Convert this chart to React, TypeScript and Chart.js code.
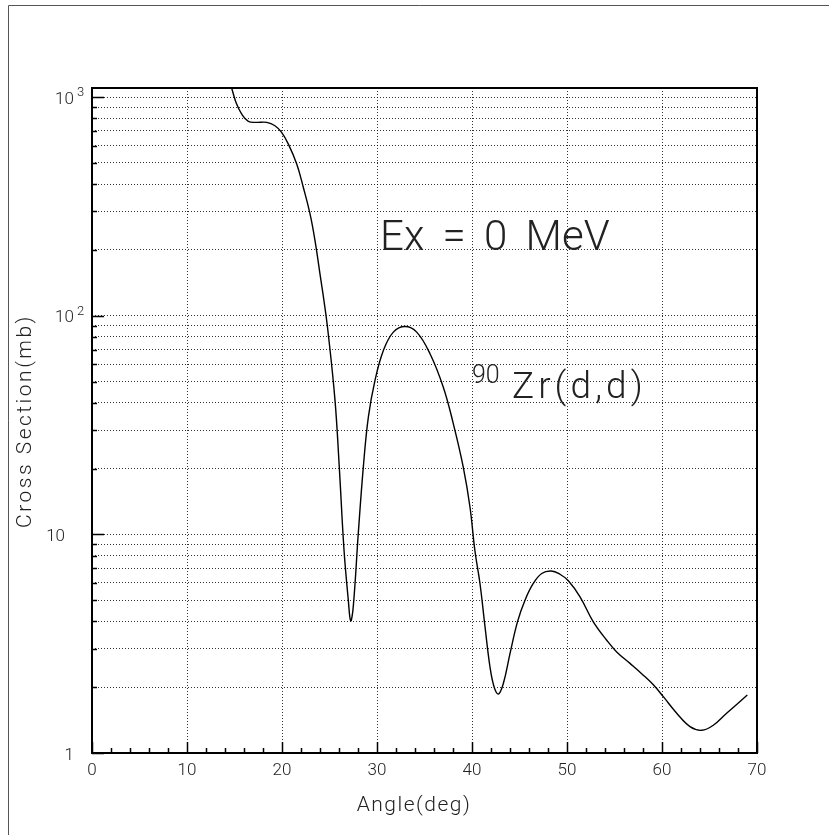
import React, { useEffect, useRef } from "react";
import { Chart, registerables } from "chart.js";

Chart.register(...registerables);

// ---- data ----
const angles = [
  14.2, 14.7, 15.16, 15.76, 16.46, 17.33, 18.39, 19.26, 19.96, 20.67, 21.55, 22.24,
  22.95, 23.47, 24.1, 24.42, 24.87, 25.58, 26.03, 26.53, 26.98, 27.23, 27.5, 28.03,
  28.56, 29.09, 29.79, 30.67, 31.72, 32.95, 34.18, 35.58, 36.98, 38.03, 39.08, 39.79,
  40.3, 40.84, 41.37, 41.89, 42.32, 42.77, 43.3, 44.0, 44.8, 45.58, 46.45, 47.34,
  48.32, 49.26, 50.14, 51.37, 52.77, 54.18, 55.23, 56.63, 58.03, 59.09, 60.14, 61.55,
  62.95, 64.18, 65.4, 66.8, 68.98,
];
const crossSection = [
  1300, 1100, 945, 836, 774, 766, 766, 739, 689, 609, 494, 387,
  292, 221, 145, 117, 82.6, 41, 20.3, 8.46, 5.0, 4.02, 4.66, 10.1,
  20.3, 34.4, 50.6, 69.3, 84.1, 89.3, 84.1, 67, 47.1, 32.1, 20.3, 13.3,
  8.46, 5.96, 3.78, 2.48, 2.01, 1.86, 2.08, 2.85, 4.0, 5.0, 5.96, 6.62,
  6.8, 6.57, 6.13, 5.18, 3.98, 3.28, 2.9, 2.57, 2.27, 2.05, 1.81, 1.52,
  1.32, 1.27, 1.34, 1.52, 1.84,
];

const xGridValues = [0, 10, 20, 30, 40, 50, 60, 70];
const xTickMarks = [0, 2, 4, 6, 8, 10, 12, 14, 16, 18, 20, 22, 24, 26, 28, 30, 32, 34, 36, 38, 40, 42, 44, 46, 48, 50, 52, 54, 56, 58, 60, 62, 64, 66, 68, 70];
const xTickLabels = ["0", "10", "20", "30", "40", "50", "60", "70"];
const yGridValues = [
  1, 2, 3, 4, 5, 6, 7, 8, 9,
  10, 20, 30, 40, 50, 60, 70, 80, 90,
  100, 200, 300, 400, 500, 600, 700, 800, 900,
  1000,
];
const yMajorValues = [1, 10, 100, 1000];
const yTickLabels = [
  { value: 1, base: "1", sup: "" },
  { value: 10, base: "10", sup: "" },
  { value: 100, base: "10", sup: "2" },
  { value: 1000, base: "10", sup: "3" },
];
const xTitle = "Angle(deg)";
const yTitle = "Cross Section(mb)";
const energyLabel = "Ex = 0 MeV";
const isotopeMass = "90";
const reactionLabel = "Zr(d,d)";

const FONT = 'Roboto, "Liberation Sans", Arial, sans-serif';
const W = "300";
const TEXT = "#222";

const decorations = {
  id: "decorations",
  afterDraw(chart: any) {
    const { ctx, chartArea: a, scales } = chart;
    const xs = scales.x;
    const ys = scales.y;
    ctx.save();

    // outer border
    ctx.strokeStyle = "#555";
    ctx.lineWidth = 1;
    ctx.beginPath();
    ctx.moveTo(8.5, 900);
    ctx.lineTo(8.5, 5.5);
    ctx.lineTo(900, 5.5);
    ctx.stroke();

    // tick marks
    ctx.strokeStyle = "#000";
    ctx.lineWidth = 1.5;
    ctx.beginPath();
    for (const v of xTickMarks) {
      const px = Math.round(xs.getPixelForValue(v)) + 0.5;
      const len = v % 10 === 0 ? 11 : 5;
      ctx.moveTo(px, a.bottom);
      ctx.lineTo(px, a.bottom - len);
    }
    for (const v of yGridValues) {
      const py = Math.round(ys.getPixelForValue(v)) + 0.5;
      const len = yMajorValues.includes(v) ? 12 : 5;
      ctx.moveTo(a.left, py);
      ctx.lineTo(a.left + len, py);
    }
    ctx.stroke();

    // frame
    ctx.lineWidth = 2;
    ctx.strokeRect(a.left, a.top, a.right - a.left, a.bottom - a.top);

    ctx.fillStyle = TEXT;
    // x tick labels
    ctx.font = `${W} 17px ${FONT}`;
    ctx.textAlign = "center";
    ctx.textBaseline = "alphabetic";
    xGridValues.forEach((v, i) => {
      ctx.fillText(xTickLabels[i], xs.getPixelForValue(v), 775);
    });

    // y tick labels
    for (const t of yTickLabels) {
      const py = ys.getPixelForValue(t.value);
      ctx.font = `${W} 17px ${FONT}`;
      if (t.sup) {
        ctx.textAlign = "left";
        ctx.fillText(t.base, 55, py + 6.5);
        ctx.font = `${W} 13px ${FONT}`;
        ctx.fillText(t.sup, 77, py - 1);
      } else {
        ctx.textAlign = "right";
        ctx.fillText(t.base, t.base === "1" ? 74 : 65, py + 6.5);
      }
    }

    // axis titles
    ctx.font = `${W} 21px ${FONT}`;
    (ctx as any).letterSpacing = "1.5px";
    ctx.textAlign = "center";
    ctx.fillText(xTitle, 414, 811);
    ctx.save();
    ctx.translate(31, 421);
    ctx.rotate(-Math.PI / 2);
    (ctx as any).letterSpacing = "2.5px";
    ctx.fillText(yTitle, 0, 0);
    ctx.restore();

    // annotations
    ctx.textAlign = "left";
    ctx.font = `${W} 42px ${FONT}`;
    (ctx as any).letterSpacing = "0px";
    (ctx as any).wordSpacing = "8px";
    ctx.fillText(energyLabel, 380, 250);
    (ctx as any).wordSpacing = "0px";

    ctx.font = `${W} 25px ${FONT}`;
    ctx.fillText(isotopeMass, 472, 383);
    ctx.font = `${W} 37px ${FONT}`;
    (ctx as any).letterSpacing = "4px";
    ctx.fillText(reactionLabel, 512, 398);
    (ctx as any).letterSpacing = "0px";

    ctx.restore();
  },
};

export default function App() {
  const ref = useRef<HTMLCanvasElement | null>(null);

  useEffect(() => {
    if (!ref.current) return;
    const points = angles.map((x, i) => ({ x, y: crossSection[i] }));
    const chart = new Chart(ref.current, {
      type: "line",
      data: {
        datasets: [
          {
            data: points,
            borderColor: "#000",
            borderWidth: 1.4,
            pointRadius: 0,
            fill: false,
            tension: 0.4,
          },
        ],
      },
      options: {
        responsive: false,
        animation: false,
        devicePixelRatio: 1,
        layout: { padding: { left: 92, right: 72, top: 88, bottom: 82 } },
        plugins: { legend: { display: false }, tooltip: { enabled: false } },
        scales: {
          x: {
            type: "linear",
            min: 0,
            max: 70,
            afterBuildTicks: (s: any) => {
              s.ticks = xGridValues.map((v) => ({ value: v }));
            },
            afterFit: (s: any) => {
              s.height = 0;
            },
            ticks: { display: false },
            grid: { color: "rgba(0,0,0,0.8)", lineWidth: 1, drawTicks: false },
            border: { display: false, dash: [1, 2] },
          },
          y: {
            type: "logarithmic",
            min: 1,
            max: 1100,
            afterBuildTicks: (s: any) => {
              s.ticks = yGridValues.map((v) => ({ value: v }));
            },
            afterFit: (s: any) => {
              s.width = 0;
            },
            ticks: { display: false },
            grid: { color: "rgba(0,0,0,0.8)", lineWidth: 1, drawTicks: false },
            border: { display: false, dash: [1, 2] },
          },
        },
      } as any,
      plugins: [decorations],
    });
    return () => chart.destroy();
  }, []);

  return (
    <div style={{ position: "fixed", left: 0, top: 0, width: 829, height: 835, background: "#fff" }}>
      <canvas ref={ref} width={829} height={835} style={{ display: "block" }} />
    </div>
  );
}
